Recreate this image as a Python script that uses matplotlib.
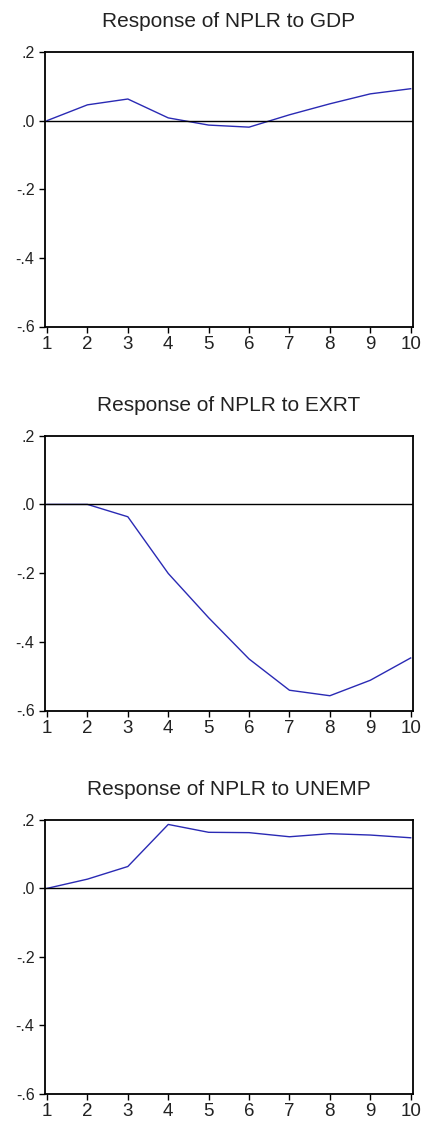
import matplotlib
matplotlib.use("Agg")
import matplotlib.pyplot as plt
from matplotlib.ticker import FuncFormatter

plt.rcParams['font.family'] = ['Liberation Sans', 'DejaVu Sans']

periods = [1, 2, 3, 4, 5, 6, 7, 8, 9, 10]
titles = ["Response of NPLR to GDP", "Response of NPLR to EXRT", "Response of NPLR to UNEMP"]
resp_gdp = [0.0, 0.046, 0.063, 0.008, -0.013, -0.019, 0.017, 0.049, 0.078, 0.093]
resp_exrt = [0.0, 0.0, -0.036, -0.201, -0.33, -0.45, -0.541, -0.557, -0.512, -0.447]
resp_unemp = [0.0, 0.027, 0.064, 0.187, 0.164, 0.163, 0.151, 0.160, 0.156, 0.148]
series = [resp_gdp, resp_exrt, resp_unemp]
yticks = [0.2, 0.0, -0.2, -0.4, -0.6]

W, H = 421, 1121
fig = plt.figure(figsize=(W / 100, H / 100), dpi=100)

# (top, bottom) in pixels
boxes = [(52, 326.5), (435.7, 710.5), (820, 1093.5)]
left, right = 45, 412.7

def fmt(v, pos):
    s = "%.1f" % v
    if s.startswith("-0"):
        s = "-" + s[2:]
    elif s.startswith("0"):
        s = s[1:]
    return s

for (top, bot), title, vals in zip(boxes, titles, series):
    ax = fig.add_axes([left / W, 1 - bot / H, (right - left) / W, (bot - top) / H])
    ax.plot(periods, vals, color='#2a2ab4', lw=1.0)
    ax.axhline(0, color='black', lw=1.0)
    ax.set_xlim(0.95, 10.05)
    ax.set_ylim(-0.6, 0.2)
    ax.set_xticks(periods)
    ax.set_yticks(yticks)
    ax.yaxis.set_major_formatter(FuncFormatter(fmt))
    ax.tick_params(direction='out', length=4, width=1, colors='black',
                   labelcolor='#222222')
    ax.tick_params(axis='x', labelsize=13.5, pad=3)
    ax.tick_params(axis='y', labelsize=11.5, pad=3.5)
    for lbl in ax.get_yticklabels():
        lbl.set_verticalalignment('center_baseline')
    for s in ax.spines.values():
        s.set_linewidth(1.3)
        s.set_color('black')
    ax.set_title(title, fontsize=15, color='#222222', pad=18)

fig.savefig("out.png", dpi=100)
